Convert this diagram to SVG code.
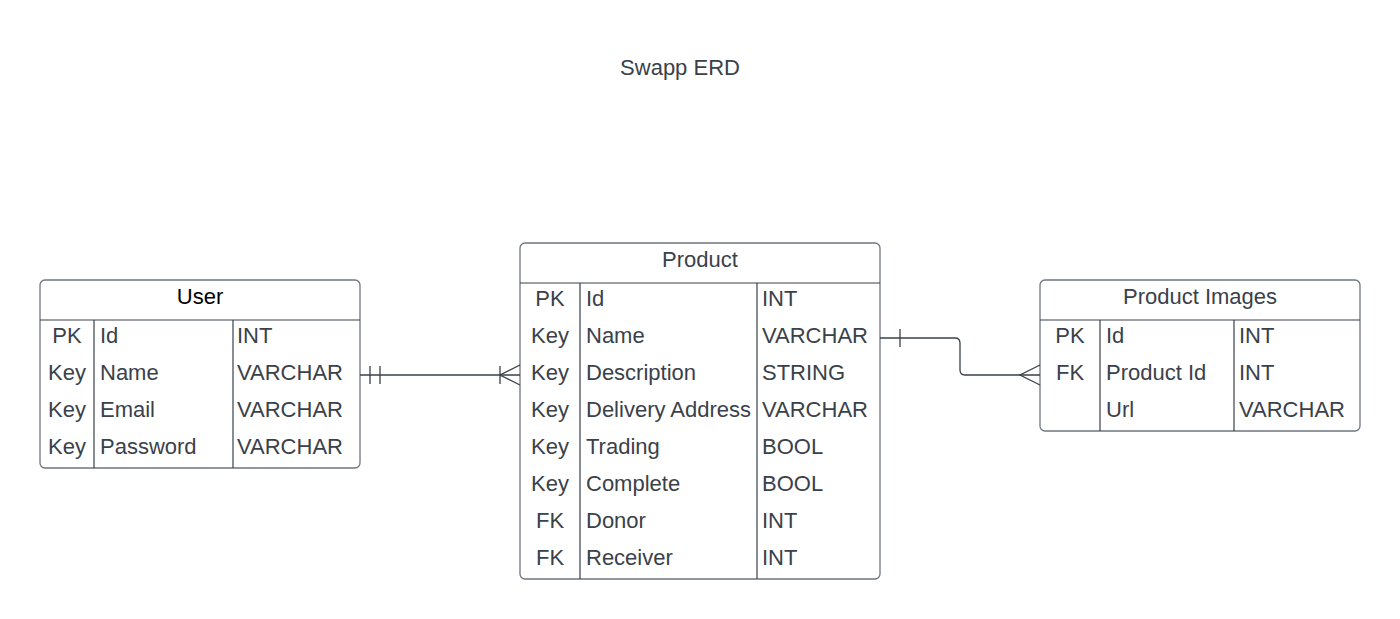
<svg xmlns="http://www.w3.org/2000/svg" width="1400" height="619" viewBox="0 0 1400 619">
<style>
  text { font-family: "Liberation Sans", Arial, sans-serif; font-size: 22px; fill: #3a414a; }
  .c { text-anchor: middle; }
  .box { fill: #ffffff; stroke: #6f767e; stroke-width: 1.3; }
  .div { stroke: #3a414a; stroke-width: 1.2; fill: none; }
  .conn { stroke: #3a414a; stroke-width: 1.3; fill: none; }
</style>
<rect width="1400" height="619" fill="#ffffff"/>
<text class="c" x="680" y="75">Swapp ERD</text>

<g id="user">
  <rect class="box" x="40" y="280" width="320" height="188" rx="5"/>
  <line class="div" x1="40" y1="320" x2="360" y2="320"/>
  <line class="div" x1="94" y1="320" x2="94" y2="468"/>
  <line class="div" x1="233" y1="320" x2="233" y2="468"/>
  <text class="c" x="200" y="304" style="fill:#000">User</text>
  <text class="c" x="67" y="343">PK</text><text x="100" y="343">Id</text><text x="237" y="343">INT</text>
  <text class="c" x="67" y="380">Key</text><text x="100" y="380">Name</text><text x="237" y="380">VARCHAR</text>
  <text class="c" x="67" y="417">Key</text><text x="100" y="417">Email</text><text x="237" y="417">VARCHAR</text>
  <text class="c" x="67" y="454">Key</text><text x="100" y="454">Password</text><text x="237" y="454">VARCHAR</text>
</g>

<g id="product">
  <rect class="box" x="520" y="243" width="360" height="336" rx="5"/>
  <line class="div" x1="520" y1="283" x2="880" y2="283"/>
  <line class="div" x1="580" y1="283" x2="580" y2="579"/>
  <line class="div" x1="757" y1="283" x2="757" y2="579"/>
  <text class="c" x="700" y="267">Product</text>
  <text class="c" x="550" y="306">PK</text><text x="586" y="306">Id</text><text x="762" y="306">INT</text>
  <text class="c" x="550" y="343">Key</text><text x="586" y="343">Name</text><text x="762" y="343">VARCHAR</text>
  <text class="c" x="550" y="380">Key</text><text x="586" y="380">Description</text><text x="762" y="380">STRING</text>
  <text class="c" x="550" y="417">Key</text><text x="586" y="417">Delivery Address</text><text x="762" y="417">VARCHAR</text>
  <text class="c" x="550" y="454">Key</text><text x="586" y="454">Trading</text><text x="762" y="454">BOOL</text>
  <text class="c" x="550" y="491">Key</text><text x="586" y="491">Complete</text><text x="762" y="491">BOOL</text>
  <text class="c" x="550" y="528">FK</text><text x="586" y="528">Donor</text><text x="762" y="528">INT</text>
  <text class="c" x="550" y="565">FK</text><text x="586" y="565">Receiver</text><text x="762" y="565">INT</text>
</g>

<g id="product-images">
  <rect class="box" x="1040" y="280" width="320" height="151" rx="5"/>
  <line class="div" x1="1040" y1="320" x2="1360" y2="320"/>
  <line class="div" x1="1100" y1="320" x2="1100" y2="431"/>
  <line class="div" x1="1234" y1="320" x2="1234" y2="431"/>
  <text class="c" x="1200" y="304">Product Images</text>
  <text class="c" x="1070" y="343">PK</text><text x="1106" y="343">Id</text><text x="1239" y="343">INT</text>
  <text class="c" x="1070" y="380">FK</text><text x="1106" y="380">Product Id</text><text x="1239" y="380">INT</text>
  <text x="1106" y="417">Url</text><text x="1239" y="417">VARCHAR</text>
</g>

<g id="connectors">
  <path class="conn" d="M360 375 H520"/>
  <path class="conn" d="M370 366 V384 M380 366 V384"/>
  <path class="conn" d="M500 366 V384 M520 365 L500 375 L520 385"/>
  <path class="conn" d="M880 338 H955 Q960 338 960 343 V370 Q960 375 965 375 H1040"/>
  <path class="conn" d="M900 329 V347"/>
  <path class="conn" d="M1040 365 L1020 375 L1040 385"/>
</g>
</svg>
